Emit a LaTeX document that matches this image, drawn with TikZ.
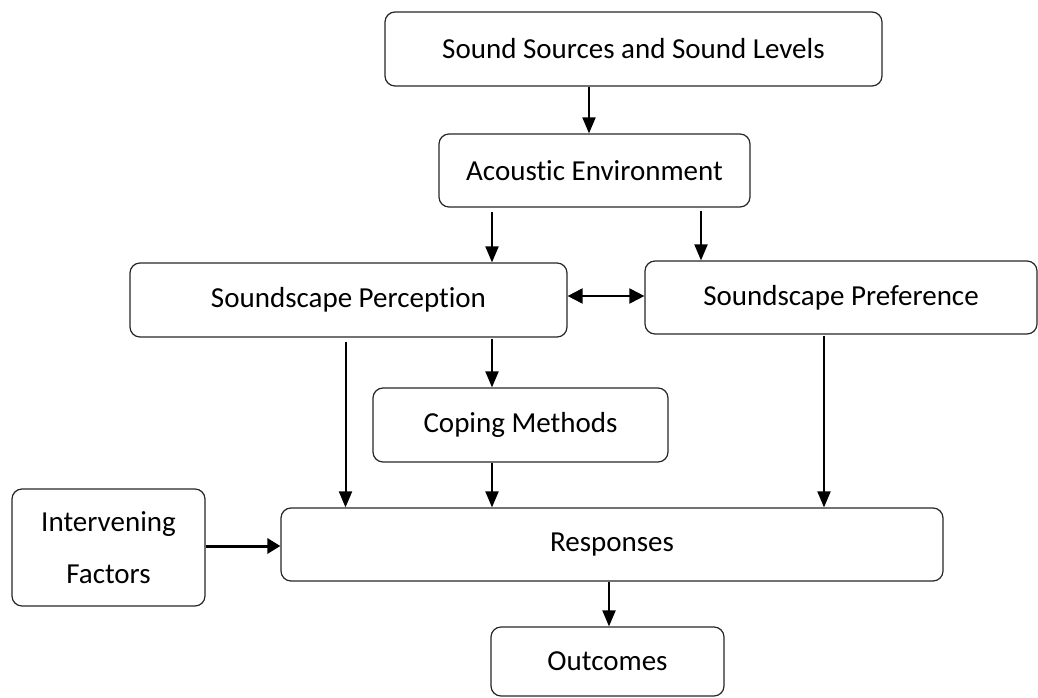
\documentclass[tikz,border=0pt]{standalone}
\usepackage{fontspec}
\setmainfont{Carlito}[Ligatures=NoCommon]
\usetikzlibrary{arrows.meta,calc}
\begin{document}
\begin{tikzpicture}[x=1pt,y=-1pt,
  box/.style={draw=black!85,line width=1.2pt,rounded corners=10pt,inner sep=0pt,
    font=\fontsize{29}{52}\selectfont,align=center},
  arr/.style={line width=2pt,-{Triangle[length=16pt,width=13pt]}},
  darr/.style={line width=2pt,{Triangle[length=15pt,width=15pt]}-{Triangle[length=15pt,width=15pt]}},
  tarr/.style={line width=3pt,-{Triangle[length=13pt,width=15pt]}}]
\useasboundingbox (0,0) rectangle (1038,698);
\node[box,minimum width=497pt,minimum height=74pt] (b1) at (633.5,49) {Sound Sources and Sound Levels};
\node[box,minimum width=311pt,minimum height=73pt] (b2) at (594.5,170.5) {Acoustic Environment};
\node[box,minimum width=437pt,minimum height=74pt] (b3) at (348.5,300) {Soundscape Perception};
\node[box,minimum width=392pt,minimum height=73pt] (b4) at (841,297.5) {Soundscape Preference};
\node[box,minimum width=295pt,minimum height=74pt] (b5) at (520.5,425) {Coping Methods};
\node[box,minimum width=193pt,minimum height=117pt] (b6) at (108.5,547.5) {Intervening\\Factors};
\node[box,minimum width=662pt,minimum height=73pt] (b7) at (612,544.5) {Responses};
\node[box,minimum width=233pt,minimum height=69pt] (b8) at (607.5,661.5) {Outcomes};
\coordinate (xa) at (589,0);
\coordinate (xb) at (492,0);
\coordinate (xc) at (701,0);
\coordinate (xd) at (345.5,0);
\coordinate (xe) at (824,0);
\coordinate (xf) at (609,0);
\coordinate (ya) at (0,296);
\coordinate (yb) at (0,546);
\draw[arr] (b1.south -| xa) -- (b2.north -| xa);
\draw[arr,shorten <=4pt] (b2.south -| xb) -- (b3.north -| xb);
\draw[arr,shorten <=3pt] (b2.south -| xc) -- (b4.north -| xc);
\draw[darr] (b3.east |- ya) -- (b4.west |- ya);
\draw[arr,shorten <=4pt] (b3.south -| xd) -- (b7.north -| xd);
\draw[arr,shorten <=1pt] (b3.south -| xb) -- (b5.north -| xb);
\draw[arr] (b5.south -| xb) -- (b7.north -| xb);
\draw[arr,shorten <=1pt] (b4.south -| xe) -- (b7.north -| xe);
\draw[tarr] (b6.east |- yb) -- (b7.west |- yb);
\draw[arr] (b7.south -| xf) -- (b8.north -| xf);
\end{tikzpicture}
\end{document}
